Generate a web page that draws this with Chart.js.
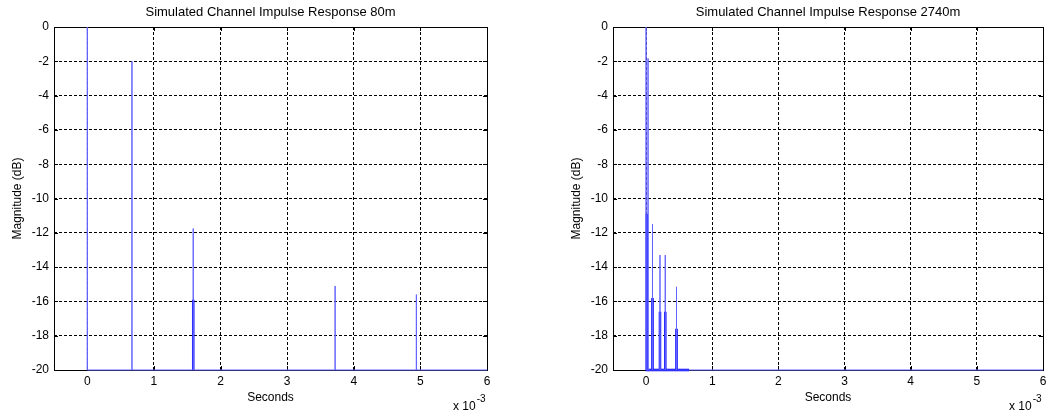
<!DOCTYPE html>
<html><head><meta charset="utf-8">
<script src="https://cdn.jsdelivr.net/npm/chart.js@4.4.1/dist/chart.umd.min.js"></script>
<style>
html,body{margin:0;padding:0;background:#fff;width:1053px;height:416px;overflow:hidden}
canvas{position:absolute;top:0}
#c1{left:0}
#c2{left:559px}
</style></head><body>
<canvas id="c1" width="497" height="416"></canvas>
<canvas id="c2" width="494" height="416"></canvas>
<script>
// ---- data (time in ms i.e. x 10^-3 s, magnitude in dB) ----
const xTickValues = [0, 1, 2, 3, 4, 5, 6];
const yTickValues = [0, -2, -4, -6, -8, -10, -12, -14, -16, -18, -20];
const chartTitles = ['Simulated Channel Impulse Response 80m', 'Simulated Channel Impulse Response 2740m'];
const xLabel = 'Seconds';
const yLabel = 'Magnitude (dB)';
const floorDb = -20;
const tEnd = 6;

// 80 m: individual arrivals
const t80Paths = [0, 0.67, 1.59, 3.72, 4.94];
const m80Paths = [0, -2.0, -11.75, -15.1, -15.6];
// 80 m: dense (overlapping) arrivals
const t80Dense = [1.59];
const m80Dense = [-15.9];

// 2740 m: individual arrivals
const t2740Paths = [0, 0.03, 0.097, 0.21, 0.29, 0.46];
const m2740Paths = [0, -1.83, -11.5, -13.3, -13.3, -15.15];
// 2740 m: dense (overlapping) arrivals
const t2740Dense = [0.012, 0.097, 0.21, 0.29, 0.46, 0.65];
const m2740Dense = [-10.9, -15.8, -16.6, -16.6, -17.6, -20];

const FONT = "'Liberation Sans', Arial, sans-serif";

function stems(ts, ms, withBase) {
  const pts = [];
  if (withBase) pts.push({x: 0, y: floorDb});
  ts.forEach((t, i) => {
    pts.push({x: t, y: floorDb});
    pts.push({x: t, y: ms[i]});
    pts.push({x: t, y: floorDb});
  });
  if (withBase) pts.push({x: tEnd, y: floorDb});
  return pts;
}

const framePlugin = {
  id: 'frame',
  beforeDatasetsDraw(chart) {
    const {ctx, chartArea: a, scales} = chart;
    ctx.save();
    ctx.strokeStyle = '#000';
    ctx.lineWidth = 1;
    ctx.setLineDash([]);
    ctx.beginPath();
    xTickValues.forEach(v => {
      const x = Math.round(scales.x.getPixelForValue(v)) + 0.5;
      ctx.moveTo(x, a.bottom); ctx.lineTo(x, a.bottom - 4);
      ctx.moveTo(x, a.top); ctx.lineTo(x, a.top + 4);
    });
    yTickValues.forEach(v => {
      const y = Math.round(scales.y.getPixelForValue(v)) + 0.5;
      ctx.moveTo(a.left, y); ctx.lineTo(a.left + 4, y);
      ctx.moveTo(a.right, y); ctx.lineTo(a.right - 4, y);
    });
    ctx.stroke();
    ctx.strokeRect(Math.round(a.left) + 0.5, Math.round(a.top) + 0.5,
                   Math.round(a.right - a.left), Math.round(a.bottom - a.top));
    ctx.restore();
  },
  afterDraw(chart) {
    const {ctx, chartArea: a} = chart;
    ctx.save();
    ctx.fillStyle = '#000';
    ctx.textBaseline = 'alphabetic';
    ctx.textAlign = 'left';
    ctx.font = '12px ' + FONT;
    const x0 = a.right - 34;
    ctx.fillText('x 10', x0, a.bottom + 40);
    const w = ctx.measureText('x 10').width;
    ctx.font = '10px ' + FONT;
    ctx.fillText('-3', x0 + w + 1, a.bottom + 32);
    ctx.restore();
  }
};

function makeChart(id, title, tp, mp, td, md) {
  return new Chart(document.getElementById(id), {
    type: 'scatter',
    data: {
      datasets: [
        {data: stems(tp, mp, true), showLine: true, borderColor: '#6464ff', borderWidth: 1,
         pointRadius: 0, tension: 0, clip: false},
        {data: stems(td, md, false), showLine: true, borderColor: '#0000ff', borderWidth: 2.5,
         pointRadius: 0, tension: 0, clip: false}
      ]
    },
    options: {
      responsive: false,
      animation: false,
      events: [],
      layout: {padding: {left: 0, right: 10, top: 0, bottom: 0}},
      plugins: {
        legend: {display: false},
        tooltip: {enabled: false},
        title: {display: true, text: title, color: '#000', fullSize: false,
                font: {family: FONT, size: 13, weight: 'normal'},
                padding: {top: 5, bottom: 6.4}}
      },
      scales: {
        x: {
          type: 'linear', min: -0.5, max: 6,
          afterBuildTicks: s => { s.ticks = xTickValues.map(v => ({value: v})); },
          afterFit: s => { s.height = 46; },
          grid: {color: '#000', lineWidth: 1, drawTicks: false},
          border: {display: false, dash: [3, 2]},
          ticks: {color: '#000', font: {family: FONT, size: 12}, padding: 4, maxRotation: 0},
          title: {display: true, text: xLabel, color: '#000',
                  font: {family: FONT, size: 12}, padding: {top: 0, bottom: 10.8}}
        },
        y: {
          type: 'linear', min: -20, max: 0,
          afterBuildTicks: s => { s.ticks = yTickValues.map(v => ({value: v})); },
          afterFit: s => { s.width = 54; },
          grid: {color: '#000', lineWidth: 1, drawTicks: false},
          border: {display: false, dash: [3, 2]},
          ticks: {color: '#000', font: {family: FONT, size: 12}, padding: 5},
          title: {display: true, text: yLabel, color: '#000',
                  font: {family: FONT, size: 12}, padding: {top: 10.8, bottom: 0}}
        }
      }
    },
    plugins: [framePlugin]
  });
}

makeChart('c1', chartTitles[0], t80Paths, m80Paths, t80Dense, m80Dense);
makeChart('c2', chartTitles[1], t2740Paths, m2740Paths, t2740Dense, m2740Dense);
</script>
</body></html>
